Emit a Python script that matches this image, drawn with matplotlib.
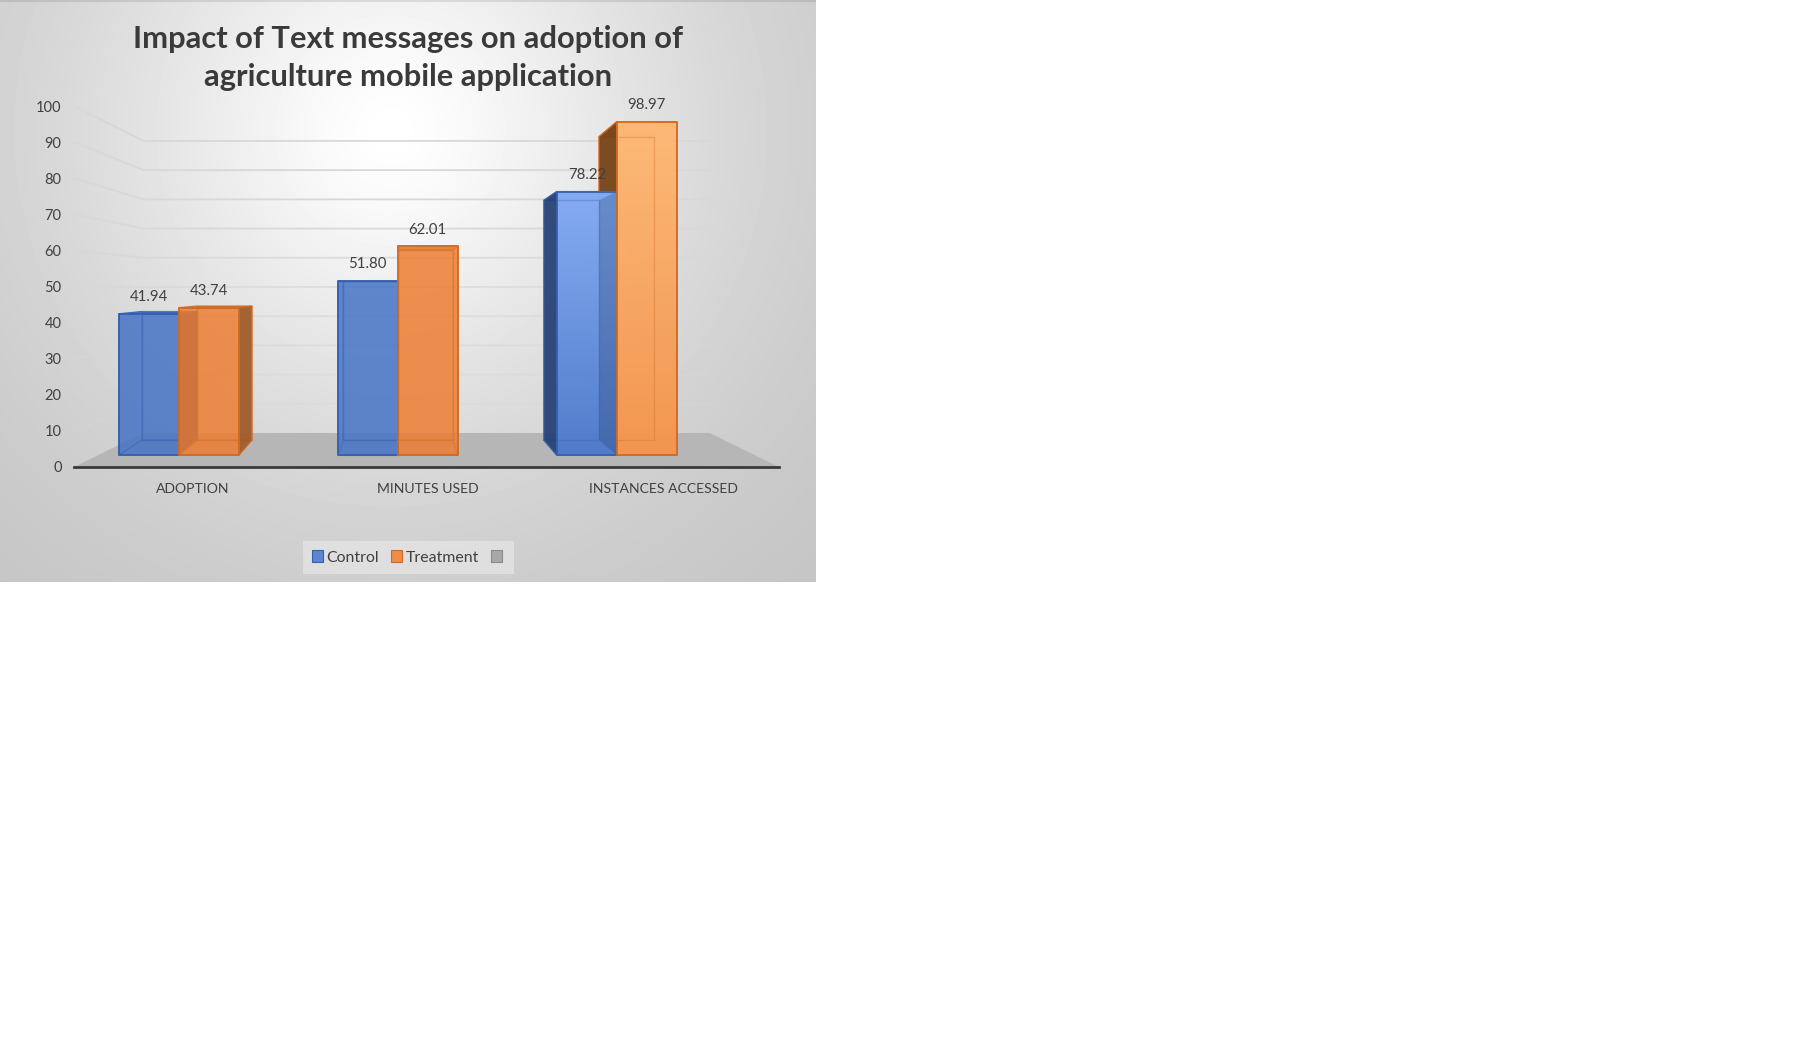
import numpy as np
import matplotlib
matplotlib.use("Agg")
import matplotlib.pyplot as plt
from matplotlib.patches import Polygon, Patch
from matplotlib.transforms import ScaledTranslation

# ---- data ----
categories = ["ADOPTION", "MINUTES USED", "INSTANCES ACCESSED"]
control = [41.94, 51.80, 78.22]
treatment = [43.74, 62.01, 98.97]
y_ticks = [0, 10, 20, 30, 40, 50, 60, 70, 80, 90, 100]
title = "Impact of Text messages on adoption of\nagriculture mobile application"
legend_labels = ["Control", "Treatment", ""]

# ---- style ----
W, H = 1796, 1058
plt.rcParams["font.family"] = ["Lato", "DejaVu Sans"]
TXT = "#404040"
BLUE, BLUE_E, BLUE_D = "#4472C4", "#3560AE", "#263F6E"
ORANGE, ORANGE_E = "#ED7D31", "#CF6A22"
ORANGE_SIDES = ["#9A5A2A", "#9A5A2A", "#6E3F16"]
GRID = "#d8d8d8"
FLOOR = "#b6b6b6"

fig = plt.figure(figsize=(W / 100, H / 100), dpi=100, facecolor="white")


def px_axes(x0, y0, x1, y1, **kw):
    return fig.add_axes([x0 / W, 1 - y1 / H, (x1 - x0) / W, (y1 - y0) / H], **kw)


# panel background: radial gradient with a darker top rim
PANEL_W, PANEL_H = 816, 582
bg = px_axes(0, 0, PANEL_W, PANEL_H, zorder=0)
yy, xx = np.mgrid[0:PANEL_H, 0:PANEL_W]
r = np.hypot(xx - 390, yy - 130)
shade = 0.75 + 0.25 * np.exp(-(r / 350) ** 1.5)
shade[:2] *= 0.9
bg.imshow(shade, cmap="gray", vmin=0, vmax=1, aspect="auto",
          extent=(0, PANEL_W, PANEL_H, 0), interpolation="bilinear")
bg.axis("off")

# plot axes: value axis 0..100 and three category slots
ax = px_axes(74, 106, 779, 467, zorder=1)
ax.patch.set_alpha(0)
ax.set_xlim(-0.5, 2.5)
ax.set_ylim(0, 100)

# simple projection of the 3-D box onto the axes
FLOOR_RISE = 9.42     # value units the floor climbs from front to back
SHRINK_Y = 0.191
X_FACTOR0, X_FACTOR1 = 0.9925, 0.173
BAR_CENTRE = 0.878
D_FRONT, D_BACK = 0.35, 0.79
BAR_W = 0.274


def py(v, d):
    return FLOOR_RISE * d + v * (1 - SHRINK_Y * d)


def floor_x(q, d):
    return 1 + q * (1 - 0.197 * d)


def bar_x(c, off, d):
    return BAR_CENTRE + (c - 1 + off) * (X_FACTOR0 - X_FACTOR1 * d)


z = [2]


def face(pts, fc="none", ec="none", alpha=None, lw=1.2):
    z[0] += 1
    p = Polygon(pts, closed=True, facecolor=fc, edgecolor=ec, linewidth=lw,
                alpha=alpha, zorder=z[0], clip_on=False, joinstyle="round")
    ax.add_patch(p)
    return p


def corners(c, lo, hi, v, d):
    return [(bar_x(c, lo, d), py(0, d)), (bar_x(c, hi, d), py(0, d)),
            (bar_x(c, hi, d), py(v, d)), (bar_x(c, lo, d), py(v, d))]


def side(c, off, v):
    return [(bar_x(c, off, D_FRONT), py(0, D_FRONT)), (bar_x(c, off, D_BACK), py(0, D_BACK)),
            (bar_x(c, off, D_BACK), py(v, D_BACK)), (bar_x(c, off, D_FRONT), py(v, D_FRONT))]


def is_outward(c, off, sgn):
    return (bar_x(c, off, D_BACK) - bar_x(c, off, D_FRONT)) * sgn > 0


def box_back(c, lo, hi, v, col, edge, dark):
    face(corners(c, lo, hi, v, D_BACK), fc=col, alpha=0.6)
    face(corners(c, lo, hi, v, D_BACK), ec=edge, alpha=0.4, lw=1.0)
    face([(bar_x(c, lo, D_FRONT), py(0, D_FRONT)), (bar_x(c, hi, D_FRONT), py(0, D_FRONT)),
          (bar_x(c, hi, D_BACK), py(0, D_BACK)), (bar_x(c, lo, D_BACK), py(0, D_BACK))],
         fc=col, ec=edge, alpha=0.6, lw=0.8)
    face([(bar_x(c, lo, D_FRONT), py(v, D_FRONT)), (bar_x(c, hi, D_FRONT), py(v, D_FRONT)),
          (bar_x(c, hi, D_BACK), py(v, D_BACK)), (bar_x(c, lo, D_BACK), py(v, D_BACK))],
         fc=edge, ec=edge, alpha=0.7, lw=1.0)
    for off, sgn in ((lo, -1), (hi, 1)):
        if is_outward(c, off, sgn):
            face(side(c, off, v), fc=dark, ec=edge, alpha=0.88, lw=1.0)
        else:
            face(side(c, off, v), fc=col, ec=edge, alpha=0.6, lw=0.6)


def box_front(c, lo, hi, v, col, edge, gradient=None, inner=0.0, dark=None):
    pts = corners(c, lo, hi, v, D_FRONT)
    if gradient is None:
        face(pts, fc=col, alpha=0.6)
    else:
        z[0] += 1
        top, bottom = (np.array(matplotlib.colors.to_rgb(g)) for g in gradient)
        t = np.linspace(0, 1, 128)[:, None, None]
        img = top[None, None, :] * (1 - t) + bottom[None, None, :] * t
        im = ax.imshow(img, aspect="auto", zorder=z[0], alpha=0.95,
                       extent=(pts[0][0], pts[1][0], py(0, D_FRONT), py(v, D_FRONT)),
                       interpolation="bilinear")
        im.set_clip_on(False)
        ax.set_xlim(-0.5, 2.5)
        ax.set_ylim(0, 100)
        for off, sgn in ((lo, -1), (hi, 1)):
            if inner > 0 and not is_outward(c, off, sgn):
                face(side(c, off, v), fc=dark, alpha=inner)
    # rear outline only shows through the front face itself
    clip = Polygon(pts, closed=True, transform=ax.transData)
    rear = face(corners(c, lo, hi, v, D_BACK), ec=edge, alpha=0.3, lw=1.0)
    rear.set_clip_path(clip)
    rear.set_clip_on(True)
    face(pts, ec=edge, lw=1.3)


# floor
q0, q1 = -1.5, 1.5
ax.add_patch(Polygon([(floor_x(q0, 0), 0), (floor_x(q1, 0), 0),
                      (floor_x(q1, 1), py(0, 1)), (floor_x(q0, 1), py(0, 1))],
                     closed=True, facecolor=FLOOR, edgecolor="none", zorder=1.5, clip_on=False))
# gridlines on side and back wall
for t in y_ticks[1:]:
    ax.plot([floor_x(q0, 0), floor_x(q0, 1), floor_x(q1, 1)],
            [py(t, 0), py(t, 1), py(t, 1)], color=GRID, lw=1.3,
            zorder=1.2, clip_on=False, alpha=min(1, 0.25 + t / 100))

# bars
gradients = [(None, None), (None, None), (("#86AEF4", "#4F7BCB"), ("#FFBB78", "#F39650"))]
for c, (vb, vo) in enumerate(zip(control, treatment)):
    if c == 0:
        box_back(c, -BAR_W, 0, vb, BLUE, BLUE_E, BLUE_D)
        box_front(c, -BAR_W, 0, vb, BLUE, BLUE_E)
        box_back(c, 0, BAR_W, vo, ORANGE, ORANGE_E, ORANGE_SIDES[c])
        box_front(c, 0, BAR_W, vo, ORANGE, ORANGE_E)
    else:
        box_back(c, 0, BAR_W, vo, ORANGE, ORANGE_E, ORANGE_SIDES[c])
        box_back(c, -BAR_W, 0, vb, BLUE, BLUE_E, BLUE_D)
        box_front(c, -BAR_W, 0, vb, BLUE, BLUE_E, gradients[c][0], 0.28, BLUE_D)
        box_front(c, 0, BAR_W, vo, ORANGE, ORANGE_E, gradients[c][1], 0.0, ORANGE_SIDES[c])
    for off, v in ((-BAR_W / 2, vb), (BAR_W / 2, vo)):
        ax.annotate(f"{v:.2f}", (bar_x(c, off, D_FRONT), py(v, D_FRONT)),
                    xytext=(0, 9.5), textcoords="offset pixels", ha="center", va="bottom",
                    fontsize=10.8, color=TXT, zorder=200, annotation_clip=False)

# axes dressing
for s in ("top", "left", "right"):
    ax.spines[s].set_visible(False)
ax.spines["bottom"].set_color("#3a3a3a")
ax.spines["bottom"].set_linewidth(2.0)
ax.spines["bottom"].set_zorder(150)
ax.set_yticks(y_ticks)
ax.set_xticks(range(len(categories)), categories)
ax.tick_params(axis="both", length=0, colors=TXT)
ax.tick_params(axis="y", pad=9, labelsize=10.5)
ax.tick_params(axis="x", pad=11.8, labelsize=10.1)
shift = ScaledTranslation(1.5 / 100, 0, fig.dpi_scale_trans)
for lbl in ax.get_xticklabels():
    lbl.set_transform(lbl.get_transform() + shift)

fig.text(408 / W, 1 - 58 / H, title, ha="center", va="center", fontsize=22.2, fontweight="bold",
         color="#3a3a3a", linespacing=1.47, zorder=5)

handles = [Patch(facecolor="#5B85CF", edgecolor=BLUE_E, lw=0.8),
           Patch(facecolor="#EF8C4A", edgecolor=ORANGE_E, lw=0.8),
           Patch(facecolor="#a8a8a8", edgecolor="#8a8a8a", lw=0.8)]
leg = fig.legend(handles, legend_labels, ncol=3, loc="center",
                 bbox_to_anchor=(408.5 / W, 1 - 557.5 / H), fontsize=11.4,
                 handlelength=0.7, handleheight=0.7, handletextpad=0.2,
                 columnspacing=0.75, frameon=True, fancybox=False,
                 facecolor="#e4e4e4", edgecolor="none", framealpha=0.8,
                 labelcolor=TXT, borderpad=0.6)
leg.set_zorder(6)

fig.savefig("out.png", dpi=100, facecolor="white")
